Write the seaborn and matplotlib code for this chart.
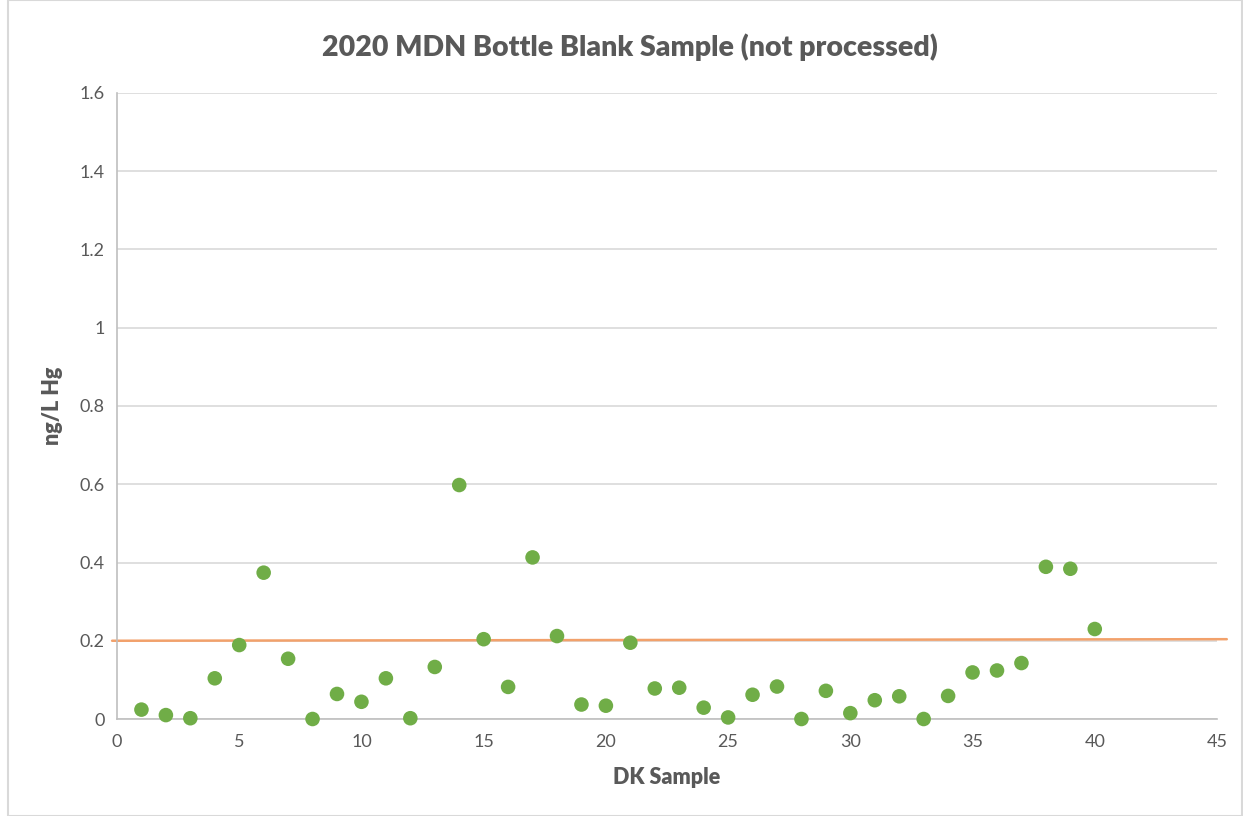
import matplotlib
matplotlib.use("Agg")
import matplotlib.pyplot as plt
import seaborn as sns
import pandas as pd
from matplotlib.patches import Rectangle

sample = list(range(1, 41))
hg = [0.024, 0.010, 0.002, 0.104, 0.189, 0.374, 0.154, 0.000, 0.064, 0.044,
      0.104, 0.002, 0.133, 0.598, 0.204, 0.082, 0.413, 0.212, 0.037, 0.034,
      0.195, 0.078, 0.080, 0.029, 0.004, 0.062, 0.083, 0.000, 0.072, 0.015,
      0.048, 0.058, 0.000, 0.059, 0.119, 0.124, 0.143, 0.389, 0.384, 0.230]
limit_x = [-0.2, 45.4]
limit_y = [0.200, 0.204]

df = pd.DataFrame({"DK Sample": sample, "ng/L Hg": hg})
ldf = pd.DataFrame({"x": limit_x, "y": limit_y})

sns.set_theme(style="white")
plt.rcParams['font.family'] = ['Lato', 'DejaVu Sans']

fig = plt.figure(figsize=(12.43, 8.16), dpi=100)
ax = fig.add_axes([117/1243, 1-719/816, 1100/1243, 626/816])

sns.lineplot(data=ldf, x="x", y="y", ax=ax, color="#F2A16B", linewidth=1.8,
             zorder=2, clip_on=False)
sns.scatterplot(data=df, x="DK Sample", y="ng/L Hg", ax=ax, color="#70AD47",
                s=110, edgecolor="none", zorder=3, clip_on=False)

ax.set_xlim(0, 45)
ax.set_ylim(0, 1.6)
ax.set_xticks(range(0, 46, 5))
ax.set_yticks([0, 0.2, 0.4, 0.6, 0.8, 1.0, 1.2, 1.4, 1.6])
ax.set_yticklabels(["0", "0.2", "0.4", "0.6", "0.8", "1", "1.2", "1.4", "1.6"])
ax.yaxis.grid(True, color="#D9D9D9", linewidth=1.2)
ax.xaxis.grid(False)
for s in ["top", "right"]:
    ax.spines[s].set_visible(False)
for s in ["left", "bottom"]:
    ax.spines[s].set_color("#BFBFBF")
    ax.spines[s].set_linewidth(1.2)
ax.tick_params(axis="both", colors="#595959", labelsize=13, length=0, pad=9)
ax.tick_params(axis="x", length=5, color="#BFBFBF", direction="out", pad=6)

ax.set_xlabel("DK Sample", fontsize=15.5, fontweight="heavy", color="#595959", labelpad=12)
ax.set_ylabel("ng/L Hg", fontsize=15.5, fontweight="heavy", color="#595959", labelpad=12)
fig.text(630/1243, 1 - 47/816, "2020 MDN Bottle Blank Sample (not processed)",
         fontsize=20.5, fontweight="heavy", color="#595959", ha="center", va="center")

fig.patches.append(Rectangle((8/1243, 0), 1 - 8/1243 - 1/1243, 1, transform=fig.transFigure,
                             fill=False, edgecolor="#D9D9D9", linewidth=1.5))

fig.savefig("out.png", dpi=100)
